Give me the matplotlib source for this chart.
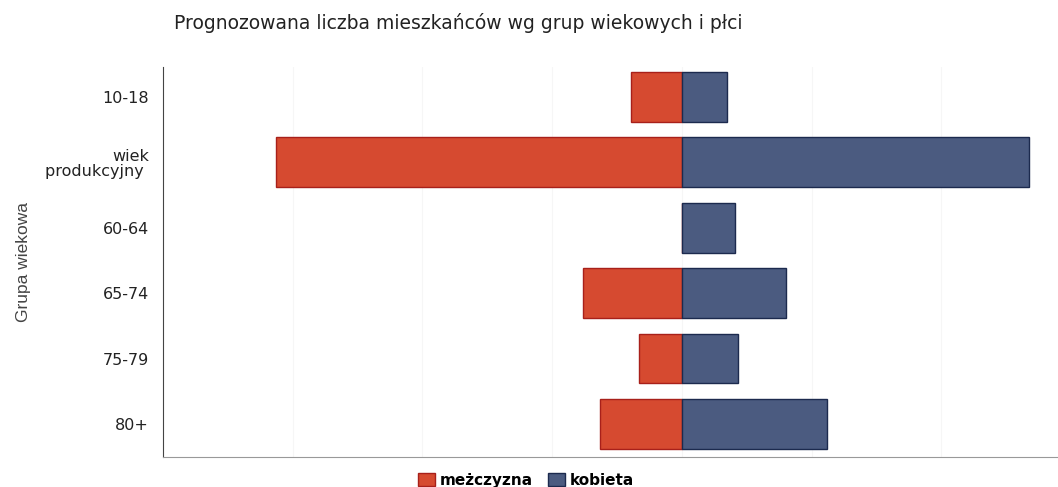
import numpy as np
import matplotlib.pyplot as plt

# grupy wiekowe i prognozowana liczba osob (jednostki umowne)
groups = ['10-18', 'wiek\nprodukcyjny ', '60-64', '65-74', '75-79', '80+']
men = [39, 313, 0, 76, 33, 63]
women = [35, 268, 41, 80, 43, 112]

red = '#d64a30'
blue = '#4b5b80'

fig = plt.figure(figsize=(10.58, 4.87), dpi=100)
ax = fig.add_axes([0.154, 0.062, 0.846, 0.800])

y = np.arange(len(groups))
ax.barh(y, -np.array(men), height=0.76, color=red, edgecolor='#a8201a', lw=1.0,
        label='meżczyzna', zorder=3)
ax.barh(y, women, height=0.76, color=blue, edgecolor='#1c2a4e', lw=1.0,
        label='kobieta', zorder=3)

ax.set_xlim(-400, 290)
ax.set_ylim(5.5, -0.45)
ax.set_xticks(np.arange(-300, 300, 100))
ax.xaxis.grid(True, color='#f6f6f6', lw=0.8, zorder=0)
ax.tick_params(axis='x', length=0, labelbottom=False)
ax.tick_params(axis='y', length=0, pad=10)
ax.set_yticks(y)
ax.set_yticklabels(groups, fontsize=11.5, color='#222222', family='DejaVu Sans',
                   multialignment='right', linespacing=1.0)

for s in ['top', 'right']:
    ax.spines[s].set_visible(False)
ax.spines['left'].set_color('#444444')
ax.spines['bottom'].set_color('#999999')
ax.spines['bottom'].set_linestyle((0, (2, 1)))

ax.set_ylabel('Grupa wiekowa', fontsize=12.5, color='#444444', family='Liberation Sans',
              labelpad=10)

fig.text(0.164, 0.952, 'Prognozowana liczba mieszkańców wg grup wiekowych i płci',
         fontsize=13.5, color='#222222', family='DejaVu Sans', va='center')

fig.legend(loc='lower center', bbox_to_anchor=(0.497, -0.03), ncol=2, frameon=False,
           handlelength=1.1, handleheight=1.0, handletextpad=0.3, columnspacing=1.0,
           prop={'family': 'DejaVu Sans', 'weight': 'semibold', 'size': 11})

fig.savefig('out.png', dpi=100)
